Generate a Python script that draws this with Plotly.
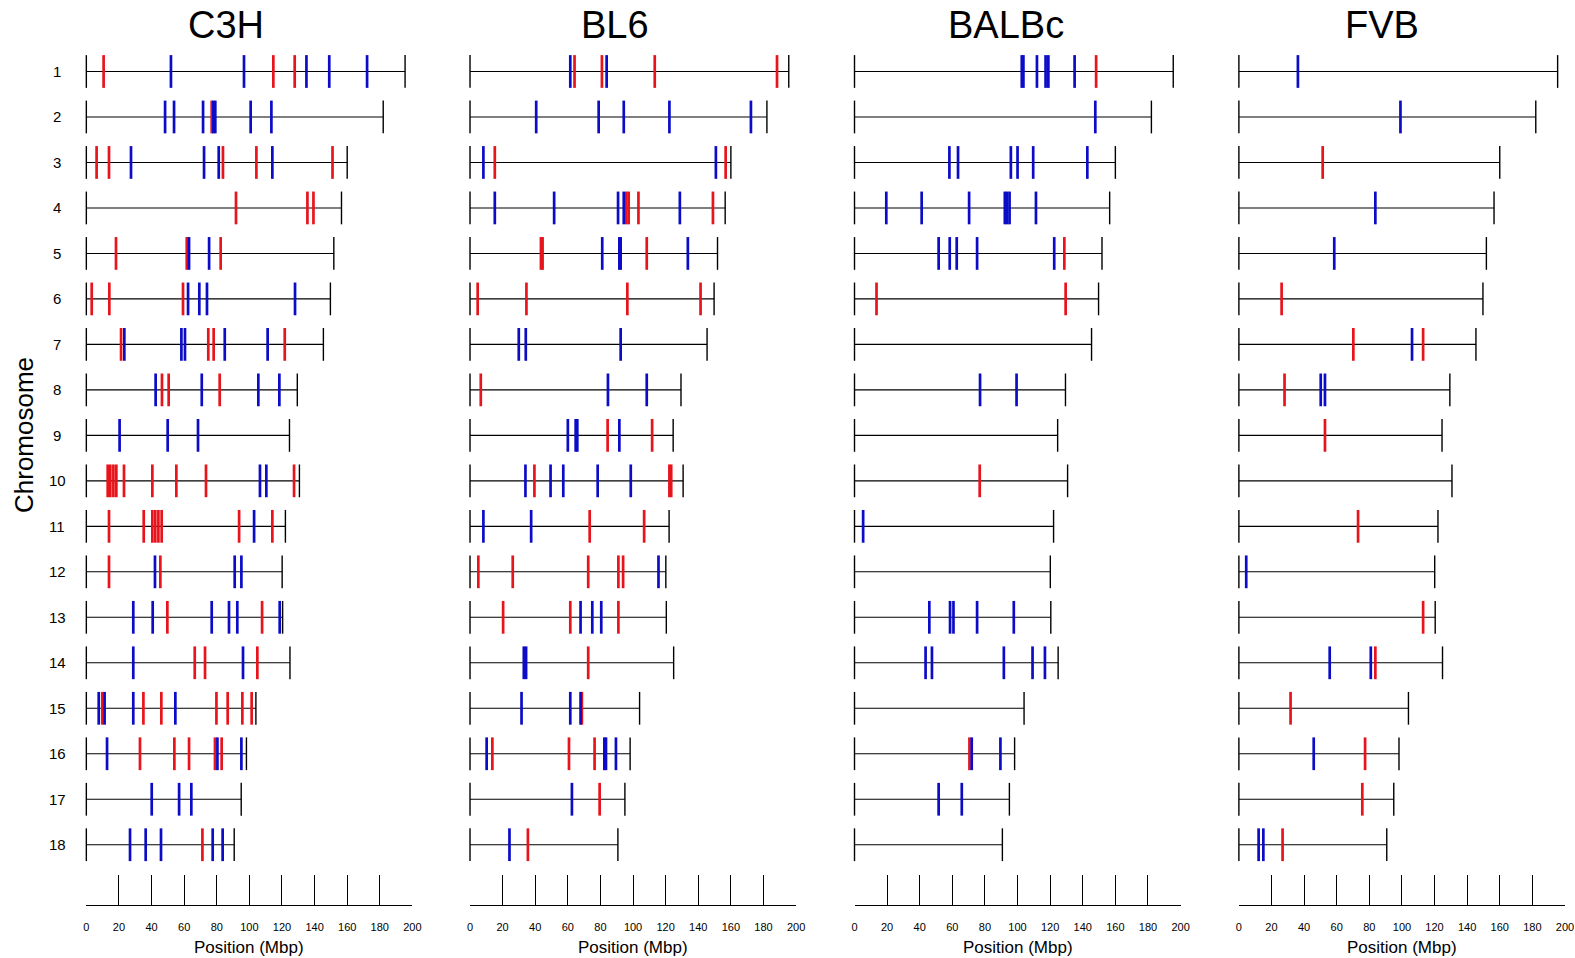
import plotly.graph_objects as go

# ---------------- data ----------------
chromosomes = list(range(1, 19))
chrom_labels = [str(c) for c in chromosomes]
chrom_lengths = [195.5, 182.1, 160.0, 156.5, 151.8, 149.7, 145.4, 129.4, 124.6,
                 130.7, 122.1, 120.1, 120.4, 124.9, 104.0, 98.2, 95.0, 90.7]
strains = ["C3H", "BL6", "BALBc", "FVB"]
x_tick_vals = list(range(0, 201, 20))
x_tick_text = [str(v) for v in x_tick_vals]
x_title = "Position (Mbp)"
y_title = "Chromosome"

c3h_red = {1: [10.6, 114.7, 127.8], 2: [76.9], 3: [6.3, 13.9, 83.8, 104.3, 151.0],
           4: [91.8, 135.6, 139.3], 5: [18.2, 61.6, 82.4], 6: [3.3, 14.1, 59.3],
           7: [21.3, 74.8, 78.1, 121.7], 8: [46.4, 50.5, 81.8], 9: [],
           10: [13.1, 14.7, 16.6, 18.4, 23.1, 40.5, 55.2, 73.4, 127.4],
           11: [13.9, 35.2, 40.5, 42.3, 44.2, 46.2, 93.7, 114.1], 12: [13.9, 45.4],
           13: [49.7, 107.8], 14: [66.5, 72.8, 104.9],
           15: [9.8, 35.0, 46.0, 79.8, 86.7, 95.7, 101.4],
           16: [32.9, 54.0, 63.0, 78.9, 83.0], 17: [], 18: [71.2]}
c3h_blue = {1: [51.9, 96.7, 135.0, 149.0, 172.2],
            2: [48.3, 53.8, 71.6, 77.9, 79.1, 100.8, 113.5],
            3: [27.4, 72.2, 81.2, 114.1], 4: [], 5: [63.0, 75.3],
            6: [62.4, 69.3, 74.0, 128.0], 7: [23.3, 58.3, 60.5, 84.9, 111.2],
            8: [42.5, 70.8, 105.5, 118.4], 9: [20.4, 49.9, 68.5], 10: [106.5, 110.4],
            11: [102.9], 12: [42.1, 91.0, 95.1], 13: [28.8, 40.7, 76.9, 87.5, 92.6, 118.6],
            14: [28.8, 96.1], 15: [7.6, 11.2, 28.8, 54.6], 16: [12.7, 80.4, 95.1],
            17: [40.1, 56.9, 64.4], 18: [26.8, 36.4, 45.8, 77.5, 83.6]}

bl6_red = {1: [64.1, 80.9, 113.3, 188.3], 3: [15.2, 156.8], 4: [95.9, 97.3, 103.3, 149.0],
           5: [43.5, 44.5, 108.4], 6: [4.7, 34.6, 96.5, 141.4], 8: [6.6], 9: [84.4, 111.7],
           10: [39.5, 122.3, 123.4], 11: [73.4, 106.8], 12: [5.1, 26.2, 72.5, 91.0, 93.9],
           13: [20.3, 61.5, 91.0], 14: [72.5], 15: [68.6], 16: [13.7, 60.7, 76.4],
           17: [79.5], 18: [35.5]}
bl6_blue = {1: [61.5, 83.8], 2: [40.6, 78.9, 94.3, 122.3, 172.3], 3: [8.2, 150.8],
            4: [15.2, 51.6, 90.8, 94.3, 128.7], 5: [81.1, 91.6, 92.4, 133.6],
            7: [29.9, 34.2, 92.4], 8: [84.6, 108.4], 9: [60.0, 64.8, 65.8, 91.6],
            10: [34.0, 49.4, 57.2, 78.3, 98.6], 11: [8.2, 37.5], 12: [115.6],
            13: [67.8, 75.0, 80.5], 14: [33.0, 34.4], 15: [31.6, 61.5, 67.8],
            16: [10.2, 82.4, 83.4, 89.5], 17: [62.5], 18: [24.2]}

balbc_red = {1: [148.2], 5: [128.7], 6: [13.5, 129.5], 10: [76.8], 16: [70.5]}
balbc_blue = {1: [102.6, 103.6, 111.9, 117.2, 118.9, 135.0], 2: [147.7],
              3: [58.2, 63.5, 95.9, 100.0, 109.6, 142.8],
              4: [19.5, 41.2, 70.3, 92.2, 93.6, 95.1, 111.3],
              5: [51.6, 58.4, 62.7, 75.2, 122.5], 8: [77.0, 99.4], 11: [5.3],
              13: [45.9, 58.6, 60.7, 75.2, 97.7], 14: [43.6, 47.5, 91.6, 109.2, 116.8],
              16: [71.9, 89.5], 17: [51.6, 65.8]}

fvb_red = {3: [51.4], 6: [26.2], 7: [70.2, 113.0], 8: [28.0], 9: [52.8], 11: [73.1],
           13: [113.0], 14: [83.7], 15: [31.7], 16: [77.4], 17: [75.7], 18: [26.8]}
fvb_blue = {1: [36.2], 2: [99.1], 4: [83.7], 5: [58.5], 7: [106.2], 8: [50.2, 52.8],
            12: [4.5], 14: [55.7, 80.9], 16: [45.9], 18: [12.1, 15.0]}

red_marks = [c3h_red, bl6_red, balbc_red, fvb_red]
blue_marks = [c3h_blue, bl6_blue, balbc_blue, fvb_blue]

# ---------------- style / layout ----------------
W, H = 1575, 958
RED = "#e8141c"
BLUE = "#0c0cc8"
FONT = "Liberation Sans, Arial, sans-serif"


def cx_px(p):
    # small empirical horizontal correction of target page pixel positions
    return 1.0079 * p - 3.41


panel_left_px = [86.7, 470.3, 854.7, 1239.0]
panel_width_px = 326.0
title_x = [85.5, 89.0, 93.0, 88.0]
MARK_SIZE = 23.4
Y_BOTTOM = 19.325
TOP_PX, BOTTOM_PX = 26.2, 905.0
M_T = TOP_PX
M_B = H - BOTTOM_PX
PLOT_H = H - M_T - M_B

fig = go.Figure()

for i, strain in enumerate(strains):
    xa = "x" if i == 0 else f"x{i+1}"
    lx, ly = [], []
    for c, L in zip(chromosomes, chrom_lengths):
        lx += [0, L, None]
        ly += [c, c, None]
    fig.add_trace(go.Scatter(x=lx, y=ly, mode="lines", xaxis=xa, yaxis="y",
                             line=dict(color="black", width=1.1),
                             hoverinfo="skip", cliponaxis=False))
    ex, ey = [], []
    for c, L in zip(chromosomes, chrom_lengths):
        ex += [0, L]
        ey += [c, c]
    fig.add_trace(go.Scatter(x=ex, y=ey, mode="markers", xaxis=xa, yaxis="y",
                             marker=dict(symbol="line-ns-open", size=MARK_SIZE, color="black",
                                         line=dict(width=1.4, color="black")),
                             hoverinfo="skip", cliponaxis=False))
    for marks, col in ((red_marks[i], RED), (blue_marks[i], BLUE)):
        mx, my = [], []
        for c, pos in marks.items():
            mx += pos
            my += [c] * len(pos)
        fig.add_trace(go.Scatter(x=mx, y=my, mode="markers", xaxis=xa, yaxis="y",
                                 marker=dict(symbol="line-ns-open", size=MARK_SIZE, color=col,
                                             line=dict(width=2.7, color=col)),
                                 cliponaxis=False))

layout = dict(
    width=W, height=H,
    margin=dict(l=0, r=0, t=M_T, b=M_B, pad=0),
    paper_bgcolor="white", plot_bgcolor="white",
    showlegend=False,
    font=dict(family=FONT, color="black"),
    yaxis=dict(range=[Y_BOTTOM, 0], visible=False, domain=[0, 1]),
)


def py(page_y):
    return 1 - (page_y - M_T) / PLOT_H


annotations = []
for i, strain in enumerate(strains):
    key = "xaxis" if i == 0 else f"xaxis{i+1}"
    left = cx_px(panel_left_px[i]) / W
    right = cx_px(panel_left_px[i] + panel_width_px) / W
    layout[key] = dict(domain=[left, right], range=[0, 200], anchor="y",
                       tickvals=x_tick_vals, ticktext=x_tick_text,
                       ticks="inside", ticklen=30, tickwidth=1, tickcolor="black",
                       showline=True, linecolor="black", linewidth=1,
                       showgrid=False, zeroline=False, ticklabelstandoff=12,
                       tickfont=dict(size=11, family=FONT, color="black"))
    xr = "x" if i == 0 else f"x{i+1}"
    annotations.append(dict(text=strain, xref=xr, x=title_x[i], yref="paper", y=py(25),
                            xanchor="center", yanchor="middle", showarrow=False,
                            font=dict(size=38, family=FONT, color="black")))
    annotations.append(dict(text=x_title, xref=f"{xr} domain", x=0.5, yref="paper",
                            y=py(947), xanchor="center", yanchor="middle",
                            showarrow=False, font=dict(size=17, family=FONT, color="black")))

for c, lab in zip(chromosomes, chrom_labels):
    annotations.append(dict(text=lab, xref="paper", x=cx_px(57.5) / W, yref="y", y=c,
                            xanchor="center", yanchor="middle", showarrow=False,
                            font=dict(size=15, family=FONT, color="black")))
annotations.append(dict(text=y_title, xref="paper", x=cx_px(25) / W, yref="y", y=9,
                        xanchor="center", yanchor="middle", textangle=-90, showarrow=False,
                        font=dict(size=26, family=FONT, color="black")))
layout["annotations"] = annotations
fig.update_layout(**layout)

fig.write_html("out.html", config={"displayModeBar": False},
               post_script="document.body.style.margin='0';"
                           "document.documentElement.style.overflow='hidden';")
